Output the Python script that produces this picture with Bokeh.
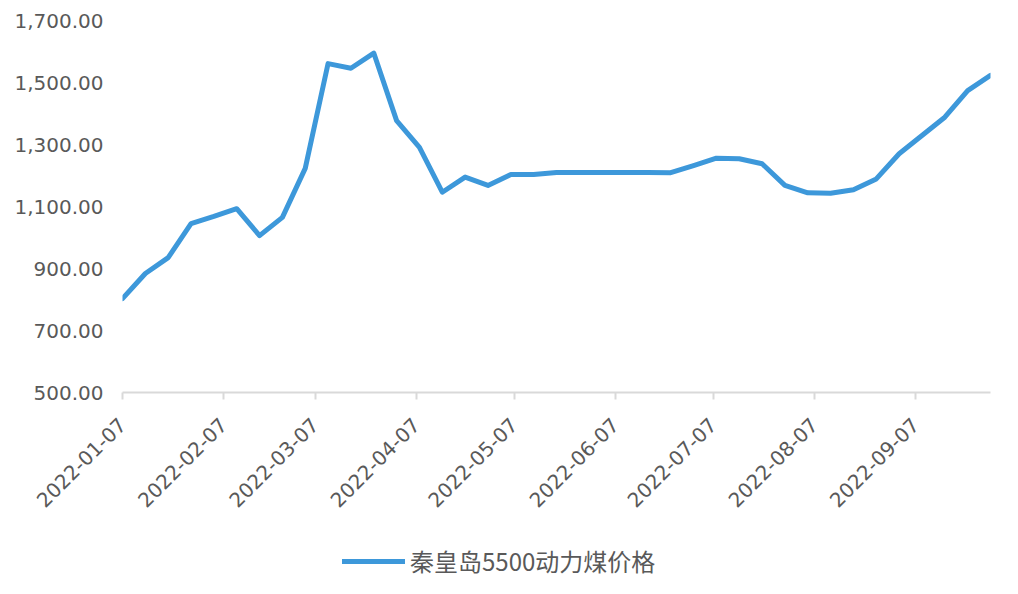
import pandas as pd
from bokeh.plotting import figure
from bokeh.layouts import column
from bokeh.models import (FixedTicker, DatetimeTickFormatter, NumeralTickFormatter,
                          Legend, LegendItem, Range1d, ColumnDataSource)
from bokeh.embed import file_html
from bokeh.resources import INLINE
from math import pi

dates = ["2022-01-07", "2022-01-14", "2022-01-21", "2022-01-28",
         "2022-02-04", "2022-02-11", "2022-02-18", "2022-02-25",
         "2022-03-04", "2022-03-11", "2022-03-18", "2022-03-25",
         "2022-04-01", "2022-04-08", "2022-04-15", "2022-04-22", "2022-04-29",
         "2022-05-06", "2022-05-13", "2022-05-20", "2022-05-27",
         "2022-06-03", "2022-06-10", "2022-06-17", "2022-06-24",
         "2022-07-01", "2022-07-08", "2022-07-15", "2022-07-22", "2022-07-29",
         "2022-08-05", "2022-08-12", "2022-08-19", "2022-08-26",
         "2022-09-02", "2022-09-09", "2022-09-16", "2022-09-23", "2022-09-30"]
prices = [803, 884, 935, 1045,
          1068, 1093, 1006, 1065,
          1223, 1561, 1546, 1595,
          1377, 1291, 1146, 1195, 1168,
          1203, 1203, 1210, 1210,
          1210, 1210, 1210, 1209,
          1232, 1256, 1254, 1238, 1168,
          1144, 1143, 1154, 1189,
          1270, 1329, 1388, 1474, 1523]
tick_labels = ["2022-01-07", "2022-02-07", "2022-03-07", "2022-04-07", "2022-05-07",
               "2022-06-07", "2022-07-07", "2022-08-07", "2022-09-07"]
y_ticks = [500, 700, 900, 1100, 1300, 1500, 1700]
series_name = "秦皇岛5500动力煤价格"

line_color = "#3d98da"
label_color = "#595959"

x = pd.to_datetime(dates)
src = ColumnDataSource(dict(x=x, y=prices))

p = figure(width=1010, height=520, x_axis_type="datetime", output_backend="svg",
           toolbar_location=None,
           x_range=Range1d(pd.Timestamp(dates[0]), pd.Timestamp(dates[-1])),
           y_range=Range1d(y_ticks[0], y_ticks[-1]),
           min_border_left=122, min_border_right=20, min_border_top=20,
           min_border_bottom=128)
p.outline_line_color = None
p.xgrid.visible = False
p.ygrid.visible = False

r = p.line("x", "y", source=src, line_color=line_color, line_width=5,
           line_join="round", line_cap="round")

tick_ms = [pd.Timestamp(t).value / 1e6 for t in tick_labels]
p.xaxis.ticker = FixedTicker(ticks=tick_ms)
fmt = "%Y-%m-%d"
p.xaxis.formatter = DatetimeTickFormatter(milliseconds=fmt, seconds=fmt, minsec=fmt,
                                          minutes=fmt, hourmin=fmt, hours=fmt, days=fmt,
                                          months=fmt, years=fmt)
p.xaxis.major_label_orientation = pi / 4
p.xaxis.axis_line_color = "#d9d9d9"
p.xaxis.axis_line_width = 2
p.xaxis.major_tick_line_color = "#d9d9d9"
p.xaxis.major_tick_line_width = 2
p.xaxis.major_tick_out = 7
p.xaxis.major_tick_in = 0
p.xaxis.minor_tick_line_color = None
p.xaxis.major_label_text_font = "DejaVu Sans"
p.xaxis.major_label_text_font_size = "20px"
p.xaxis.major_label_text_color = label_color
p.xaxis.major_label_standoff = 22

p.yaxis.ticker = FixedTicker(ticks=y_ticks)
p.yaxis.formatter = NumeralTickFormatter(format="0,0.00")
p.yaxis.axis_line_color = None
p.yaxis.major_tick_line_color = None
p.yaxis.minor_tick_line_color = None
p.yaxis.major_tick_out = 0
p.yaxis.major_tick_in = 0
p.yaxis.major_label_standoff = 19
p.yaxis.major_label_text_font = "DejaVu Sans"
p.yaxis.major_label_text_font_size = "20px"
p.yaxis.major_label_text_color = label_color

# legend strip below the chart (its line uses the same data, which lies outside this strip's ranges)
q = figure(width=1010, height=66, output_backend="svg", toolbar_location=None,
           x_range=Range1d(0, 1), y_range=Range1d(0, 1),
           min_border_left=0, min_border_right=0, min_border_top=0,
           min_border_bottom=0, x_axis_type=None, y_axis_type=None)
q.outline_line_color = None
q.xgrid.visible = False
q.ygrid.visible = False
r2 = q.line("x", "y", source=src, line_color=line_color, line_width=5, line_cap="round")

legend = Legend(items=[LegendItem(label=series_name, renderers=[r2])],
                location=(220, 8), orientation="horizontal",
                padding=0, margin=0, border_line_color=None,
                background_fill_alpha=0, glyph_width=63, glyph_height=30,
                label_height=30, label_standoff=5,
                label_text_font="Noto Sans CJK SC", label_text_font_size="24px",
                label_text_color=label_color)
q.add_layout(legend, "center")

layout = column(p, q, spacing=0)
open("out.html", "w").write(file_html(layout, INLINE))
